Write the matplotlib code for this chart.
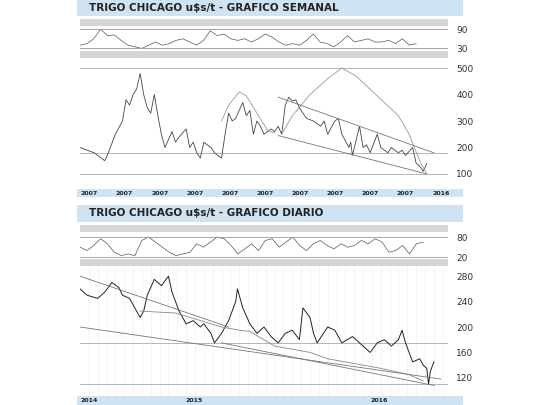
import numpy as np
import matplotlib.pyplot as plt

# --- weekly chart data (x = fraction of panel width) ---
wk_x = [0, .02, .04, .05, .07, .08, .10, .12, .13, .14, .15, .16, .17, .18, .19, .20, .21, .22,
        .23, .24, .26, .27, .28, .30, .31, .32, .33, .34, .35, .37, .38, .40, .41, .42, .43, .44,
        .46, .47, .48, .49, .50, .51, .52, .54, .55, .56, .57, .58, .59, .60, .61, .62, .64, .66,
        .68, .69, .70, .72, .73, .74, .76, .765, .77, .79, .80, .81, .82, .84, .85, .86, .87, .88,
        .90, .91, .92, .94, .95, .96, .97, .98]
wk_price = [200, 190, 180, 170, 150, 180, 250, 300, 380, 360, 400, 420, 480, 400, 350, 330, 400, 320,
            250, 200, 260, 220, 240, 270, 200, 220, 180, 160, 220, 200, 180, 160, 250, 330, 300, 310,
            370, 320, 340, 250, 300, 280, 250, 270, 260, 280, 250, 360, 390, 375, 380, 350, 310, 300,
            280, 300, 250, 300, 310, 250, 200, 220, 170, 280, 200, 210, 180, 250, 200, 190, 180, 200,
            180, 190, 170, 200, 140, 130, 110, 140]
wk_ma1_x = [.40, .42, .45, .47, .50, .53, .55]
wk_ma1 = [300, 360, 410, 395, 330, 265, 255]
wk_ma2_x = [.57, .60, .65, .70, .74, .78, .82, .86, .90, .93, .96, .98]
wk_ma2 = [250, 320, 400, 460, 500, 470, 420, 370, 320, 250, 150, 100]
wk_osc = [40, 45, 60, 90, 70, 72, 55, 40, 35, 30, 40, 50, 40, 45, 55, 60, 50, 40, 55, 85,
          70, 75, 60, 55, 60, 50, 60, 75, 65, 50, 40, 45, 40, 55, 75, 50, 45, 35, 50, 70,
          50, 55, 60, 50, 50, 55, 45, 60, 40, 45]
wk_labels = ['2007'] * 10 + ['2016']

# --- daily chart data ---
dy_x = [0, .02, .05, .07, .09, .11, .12, .14, .15, .17, .18, .19, .21, .23, .25, .26, .27, .28, .30,
        .32, .34, .35, .37, .38, .40, .42, .44, .445, .46, .48, .50, .52, .54, .56, .58, .60, .62,
        .63, .65, .66, .67, .70, .72, .74, .77, .80, .82, .84, .86, .88, .90, .91, .92, .94, .96,
        .97, .98, .985, .99, 1.0]
dy_price = [260, 250, 245, 255, 270, 262, 250, 245, 235, 215, 225, 250, 275, 265, 280, 255, 240,
            225, 205, 210, 200, 205, 190, 175, 190, 210, 240, 260, 230, 205, 190, 200, 185, 175,
            190, 195, 180, 230, 215, 190, 175, 200, 195, 175, 185, 170, 160, 175, 180, 170, 180,
            195, 175, 145, 150, 140, 135, 110, 130, 145]
dy_ma_x = [.17, .27, .40, .45, .48, .55, .60, .65, .70, .75, .85, .93, .97]
dy_ma = [225, 222, 200, 195, 193, 170, 165, 160, 150, 145, 135, 125, 115]
dy_osc = [50, 40, 55, 75, 60, 35, 25, 30, 25, 70, 80, 65, 50, 35, 25, 30, 35, 60, 50, 65, 80, 75,
          55, 30, 45, 60, 40, 70, 75, 50, 65, 80, 55, 40, 60, 70, 55, 45, 60, 50, 55, 70, 60, 75,
          65, 35, 40, 55, 30, 60, 65]
dy_labels = ['2014', '2015', '2016']

W, H = 540, 405
fig = plt.figure(figsize=(5.4, 4.05), dpi=100)
BLUE = '#cfe3f2'
GRAY = '#d6d6d6'
LN = '#555555'


def box(x0, y0, x1, y1, color):
    ax = fig.add_axes([x0 / W, 1 - y1 / H, (x1 - x0) / W, (y1 - y0) / H])
    ax.set_facecolor(color)
    ax.set_xticks([])
    ax.set_yticks([])
    for s in ax.spines.values():
        s.set_visible(False)
    return ax


def panel(y0, y1):
    ax = fig.add_axes([80 / W, 1 - y1 / H, (448 - 80) / W, (y1 - y0) / H])
    ax.set_xlim(0, 1.04)
    ax.set_xticks([])
    ax.yaxis.tick_right()
    ax.tick_params(axis='y', length=0, labelsize=6.5, colors='#333333', pad=6)
    for s in ax.spines.values():
        s.set_visible(False)
    return ax


def title(y0, y1, text):
    ax = box(77, y0, 463, y1, BLUE)
    ax.text(0.03, 0.5, text, transform=ax.transAxes, va='center', fontsize=7.5,
            fontweight='bold', color='#222222', family='DejaVu Sans')


def xbar(y0, y1, labels, pos):
    ax = box(77, y0, 463, y1, BLUE)
    ax.set_xlim(0, 1)
    for p, l in zip(pos, labels):
        ax.text(p, 0.5, l, va='center', fontsize=4.5, fontweight='bold', color='#222222')


# ===== weekly =====
title(0, 16, 'TRIGO CHICAGO u$s/t - GRAFICO SEMANAL')
box(80, 19, 448, 26, GRAY)
ax = panel(26, 50)
ax.plot(np.linspace(0, .95, len(wk_osc)), wk_osc, color=LN, lw=0.5)
ax.set_ylim(25, 100)
ax.set_yticks([30, 90])
for v in [30, 90]:
    ax.axhline(v, color='#999999', lw=0.6)
box(80, 51, 448, 58, GRAY)
ax = panel(58, 188)
ax.set_ylim(47, 538)
ax.set_yticks([100, 200, 300, 400, 500])
for v in [100, 180, 500]:
    ax.axhline(v, color='#aaaaaa', lw=0.6)
ax.plot(wk_x, wk_price, color='#444444', lw=0.6)
ax.plot(wk_ma1_x, wk_ma1, color='#999999', lw=0.6)
ax.plot(wk_ma2_x, wk_ma2, color='#999999', lw=0.6)
ax.plot([.56, 1.0], [390, 180], color='#777777', lw=0.6)
ax.plot([.56, .98], [245, 100], color='#777777', lw=0.6)
xbar(189, 197, wk_labels, np.linspace(0.01, 0.92, len(wk_labels)))

# ===== daily =====
title(205, 222, 'TRIGO CHICAGO u$s/t - GRAFICO DIARIO')
box(80, 225, 448, 232, GRAY)
ax = panel(232, 260)
ax.plot(np.linspace(0, .97, len(dy_osc)), dy_osc, color=LN, lw=0.5)
ax.set_ylim(12, 95)
ax.set_yticks([20, 80])
for v in [20, 80]:
    ax.axhline(v, color='#999999', lw=0.6)
box(80, 259, 448, 266, GRAY)
ax = panel(266, 395)
ax.set_ylim(93, 296)
ax.set_yticks([120, 160, 200, 240, 280])
for xv in np.arange(0.025, 1.04, 0.025):
    ax.axvline(xv, color='#eeeeee', lw=0.5)
for v in [110, 175]:
    ax.axhline(v, color='#aaaaaa', lw=0.6)
ax.plot(dy_x, dy_price, color='#222222', lw=0.7)
ax.plot(dy_ma_x, dy_ma, color='#888888', lw=0.6)
ax.plot([0, .42], [280, 200], color='#777777', lw=0.6)
ax.plot([0, 1.02], [200, 118], color='#777777', lw=0.6)
ax.plot([.40, 1.0], [175, 108], color='#777777', lw=0.6)
xbar(396, 405, dy_labels, [0.01, 0.28, 0.76])

fig.savefig('out.png', dpi=100, facecolor='white')
